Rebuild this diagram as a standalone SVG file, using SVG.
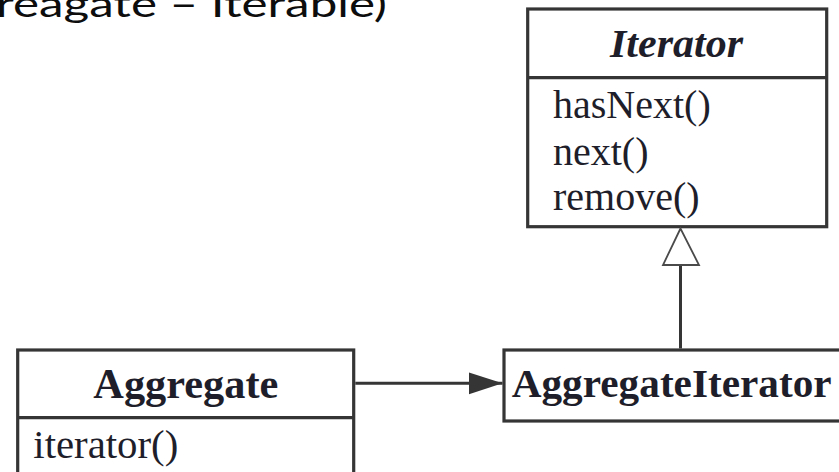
<svg xmlns="http://www.w3.org/2000/svg" width="839" height="472" viewBox="0 0 839 472">
  <defs>
    <style>
      .box { fill: #ffffff; stroke: #353535; stroke-width: 3.2; }
      .div { stroke: #353535; stroke-width: 3.2; }
      .serif { font-family: "Liberation Serif", "Times New Roman", serif; fill: #1e1e2a; }
      .title { font-family: "Lato", "Open Sans", sans-serif; font-size: 36px; fill: #0d0d0d; }
      .conn { stroke: #353535; stroke-width: 3; fill: none; }
    </style>
    <marker id="filled" viewBox="0 0 34 24" refX="34" refY="12" markerWidth="34" markerHeight="24" markerUnits="userSpaceOnUse" orient="auto">
      <path d="M0,1 L34,12 L0,23 Z" fill="#353535"/>
    </marker>
  </defs>
  <rect width="839" height="472" fill="#ffffff"/>

  <text class="title" x="-4" y="17" textLength="391" lengthAdjust="spacingAndGlyphs">reagate – Iterable)</text>

  <g id="Iterator">
    <rect class="box" x="527.7" y="9" width="299" height="217.7"/>
    <line class="div" x1="527.7" y1="77.7" x2="826.7" y2="77.7"/>
    <text class="serif" x="676.5" y="56.7" text-anchor="middle" font-size="41" font-weight="bold" font-style="italic" textLength="133" lengthAdjust="spacingAndGlyphs">Iterator</text>
    <text class="serif" x="553" y="118" font-size="40">hasNext()</text>
    <text class="serif" x="553" y="165" font-size="40">next()</text>
    <text class="serif" x="553" y="210" font-size="40">remove()</text>
  </g>

  <g id="Aggregate">
    <rect class="box" x="17.7" y="350" width="336" height="140"/>
    <line class="div" x1="17.7" y1="417.7" x2="353.7" y2="417.7"/>
    <text class="serif" x="185.8" y="398.3" text-anchor="middle" font-size="42" font-weight="bold" textLength="185" lengthAdjust="spacingAndGlyphs">Aggregate</text>
    <text class="serif" x="33.3" y="458.3" font-size="40" textLength="145" lengthAdjust="spacingAndGlyphs">iterator()</text>
  </g>

  <g id="AggregateIterator">
    <rect class="box" x="504" y="350" width="345" height="71"/>
    <text class="serif" x="511.7" y="396.7" font-size="41" font-weight="bold" textLength="320" lengthAdjust="spacingAndGlyphs">AggregateIterator</text>
  </g>

  <g id="connectors">
    <line class="conn" x1="355.3" y1="383.3" x2="502.5" y2="383.3" marker-end="url(#filled)"/>
    <line class="conn" x1="680.5" y1="265" x2="680.5" y2="348.5"/>
    <path d="M680.5,228.5 L663,265 L699,265 Z" fill="#ffffff" stroke="#4a4a4a" stroke-width="1.8" stroke-linejoin="miter"/>
  </g>
</svg>
